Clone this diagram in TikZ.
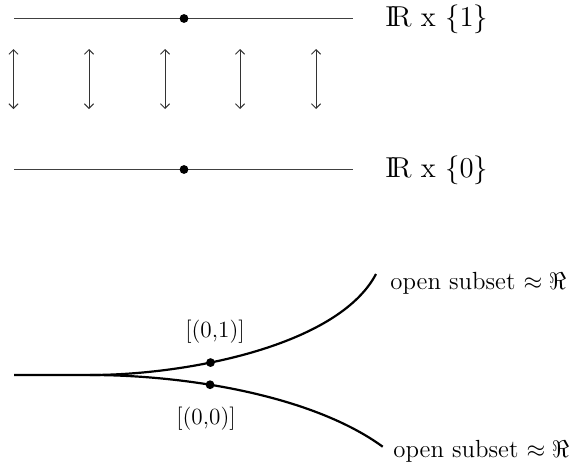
\documentclass[tikz,border=0pt]{standalone}
\usetikzlibrary{arrows.meta}
\begin{document}
\begin{tikzpicture}[x=0.5pt,y=-0.5pt,
  thinline/.style={line width=0.6pt,draw=black!75},
  updown/.style={line width=0.5pt,draw=black!80,{Straight Barb[length=2.3pt,width=4.6pt]}-{Straight Barb[length=2.3pt,width=4.6pt]}},
  branch/.style={line width=1.1pt,draw=black},
  dot/.style={circle,fill=black,inner sep=0pt,minimum size=4.4pt},
  biglabel/.style={anchor=base west,inner sep=0pt,font=\fontsize{14.4}{17}\selectfont},
  ptlabel/.style={inner sep=0pt,font=\fontsize{11.6}{14}\selectfont},
  openlabel/.style={anchor=base west,inner sep=0pt,font=\fontsize{12.4}{15}\selectfont},
]
\useasboundingbox (0,0) rectangle (571,466);
% top line R x {1}
\coordinate (t1) at (14,18.5);
\coordinate (t2) at (353,18.5);
\draw[thinline] (t1) -- (t2);
\node[dot] (tdot) at (184,18.5) {};
\node[biglabel] (ltop) at (385,26.5) {$\mathrm{I\!R}$ x $\{1\}$};
% bottom line R x {0}
\coordinate (b1) at (14,169.5);
\coordinate (b2) at (353,169.5);
\draw[thinline] (b1) -- (b2);
\node[dot] (bdot) at (184,169.5) {};
\node[biglabel] (lbot) at (385,177) {$\mathrm{I\!R}$ x $\{0\}$};
% vertical double arrows
\foreach \i/\x in {1/13.5,2/89,3/165,4/240,5/316}{
  \coordinate (au\i) at (\x,49);
  \coordinate (ad\i) at (\x,109);
  \draw[updown] (au\i) -- (ad\i);
}
% line with two origins
\coordinate (s0) at (14,375);
\coordinate (s1) at (90,375);
\coordinate (eu) at (376,274);
\coordinate (el) at (382.7,446.7);
\draw[branch] (s0) -- (s1) .. controls (190,375) and (338.8,344.8) .. coordinate[pos=0.363] (pu) (eu);
\draw[branch] (s1) .. controls (190,375) and (314,396.5) .. coordinate[pos=0.38] (pl) (el);
\node[dot] (du) at (pu) {};
\node[dot] (dl) at (pl) {};
\node[ptlabel] (l01) at (215,331.5) {[(0,1)]};
\node[ptlabel] (l00) at (206,418.5) {[(0,0)]};
\node[openlabel] (ou) at (390,289.3) {open subset $\approx\Re$};
\node[openlabel] (ol) at (393,457.3) {open subset $\approx\Re$};
\end{tikzpicture}
\end{document}
